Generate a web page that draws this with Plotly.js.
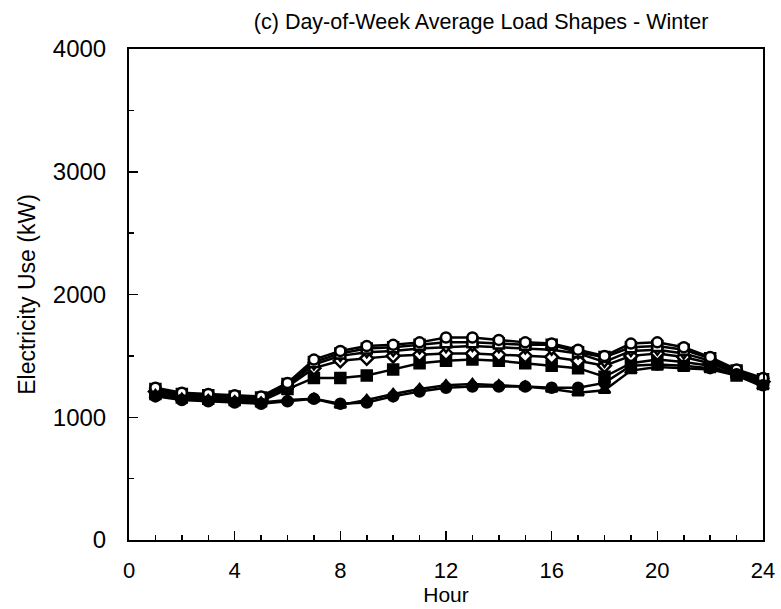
<!DOCTYPE html>
<html>
<head>
<meta charset="utf-8">
<script src="https://cdn.plot.ly/plotly-3.0.1.min.js"></script>
<style>html,body{margin:0;padding:0;background:#fff;}#chart{width:781px;height:609px;}</style>
</head>
<body>
<div id="chart"></div>
<script>
const hours = [1,2,3,4,5,6,7,8,9,10,11,12,13,14,15,16,17,18,19,20,21,22,23,24];
const dayA = [1240,1200,1190,1180,1170,1280,1470,1540,1580,1590,1610,1650,1650,1630,1610,1600,1550,1500,1600,1610,1570,1490,1390,1320];
const dayB = [1230,1190,1180,1170,1160,1270,1450,1520,1560,1570,1590,1610,1610,1600,1590,1590,1530,1490,1570,1580,1550,1480,1380,1310];
const dayC = [1220,1180,1170,1160,1150,1260,1430,1500,1530,1540,1560,1570,1580,1570,1560,1550,1520,1450,1540,1550,1520,1460,1370,1300];
const dayD = [1210,1170,1160,1150,1140,1250,1400,1460,1480,1500,1510,1520,1520,1510,1500,1490,1460,1420,1500,1520,1490,1440,1360,1290];
const dayE = [1190,1160,1150,1140,1130,1230,1320,1320,1340,1390,1440,1460,1470,1460,1440,1420,1400,1330,1440,1470,1450,1420,1340,1280];
const dayF = [1170,1140,1130,1120,1110,1130,1150,1110,1120,1170,1210,1240,1250,1250,1250,1240,1240,1280,1420,1430,1420,1400,1350,1260];
const dayG = [1180,1150,1140,1130,1120,1140,1150,1100,1140,1190,1230,1260,1270,1260,1250,1230,1200,1220,1380,1410,1400,1390,1340,1250];
const xTicks = [0,4,8,12,16,20,24];
const yTicks = [0,1000,2000,3000,4000];

const series = [
  {y: dayE, sym: 'square', fill: 'black'},
  {y: dayD, sym: 'diamond', fill: 'white'},
  {y: dayC, sym: 'triangle-down', fill: 'white'},
  {y: dayB, sym: 'square', fill: 'white'},
  {y: dayA, sym: 'circle', fill: 'white'},
  {y: dayG, sym: 'triangle-up', fill: 'black'},
  {y: dayF, sym: 'circle', fill: 'black'}
];
const traces = series.map(s => ({
  x: hours, y: s.y, type: 'scatter', mode: 'lines+markers',
  line: {color: 'black', width: 2.5},
  marker: {symbol: s.sym, size: 10, color: s.fill, line: {color: 'black', width: 2.5}},
  cliponaxis: false,
  showlegend: false, hoverinfo: 'skip'
}));

const font = 'Liberation Sans, Arial, sans-serif';
const layout = {
  width: 781, height: 609,
  margin: {l: 129, r: 18, t: 49, b: 69},
  paper_bgcolor: 'white', plot_bgcolor: 'white',
  title: {text: '(c) Day-of-Week Average Load Shapes - Winter', font: {family: font, size: 21.5, color: 'black'}, x: 0.616, xanchor: 'center', y: 0.964, yanchor: 'middle'},
  xaxis: {
    range: [0, 24], tickvals: xTicks, ticktext: xTicks.map(String),
    ticks: 'inside', ticklen: 9, tickwidth: 1.5, tickcolor: 'black',
    minor: {dtick: 1, tick0: 0, ticks: 'inside', ticklen: 5, tickwidth: 1.5, tickcolor: 'black', showgrid: false},
    showline: true, linecolor: 'black', linewidth: 2, mirror: true,
    showgrid: false, zeroline: false,
    ticklabelstandoff: 10,
    tickfont: {family: font, size: 22, color: 'black'},
    title: {text: 'Hour', font: {family: font, size: 21, color: 'black'}, standoff: 4}
  },
  yaxis: {
    range: [0, 4000], tickvals: yTicks, ticktext: yTicks.map(String),
    ticks: 'inside', ticklen: 9, tickwidth: 1.5, tickcolor: 'black',
    minor: {dtick: 500, tick0: 0, ticks: 'inside', ticklen: 5, tickwidth: 1.5, tickcolor: 'black', showgrid: false},
    showline: true, linecolor: 'black', linewidth: 2, mirror: true,
    showgrid: false, zeroline: false,
    ticklabelstandoff: 16,
    tickfont: {family: font, size: 24, color: 'black'},
    title: {text: 'Electricity Use (kW)', font: {family: font, size: 23, color: 'black'}, standoff: 11}
  }
};
Plotly.newPlot('chart', traces, layout, {staticPlot: true, displayModeBar: false});
</script>
</body>
</html>
